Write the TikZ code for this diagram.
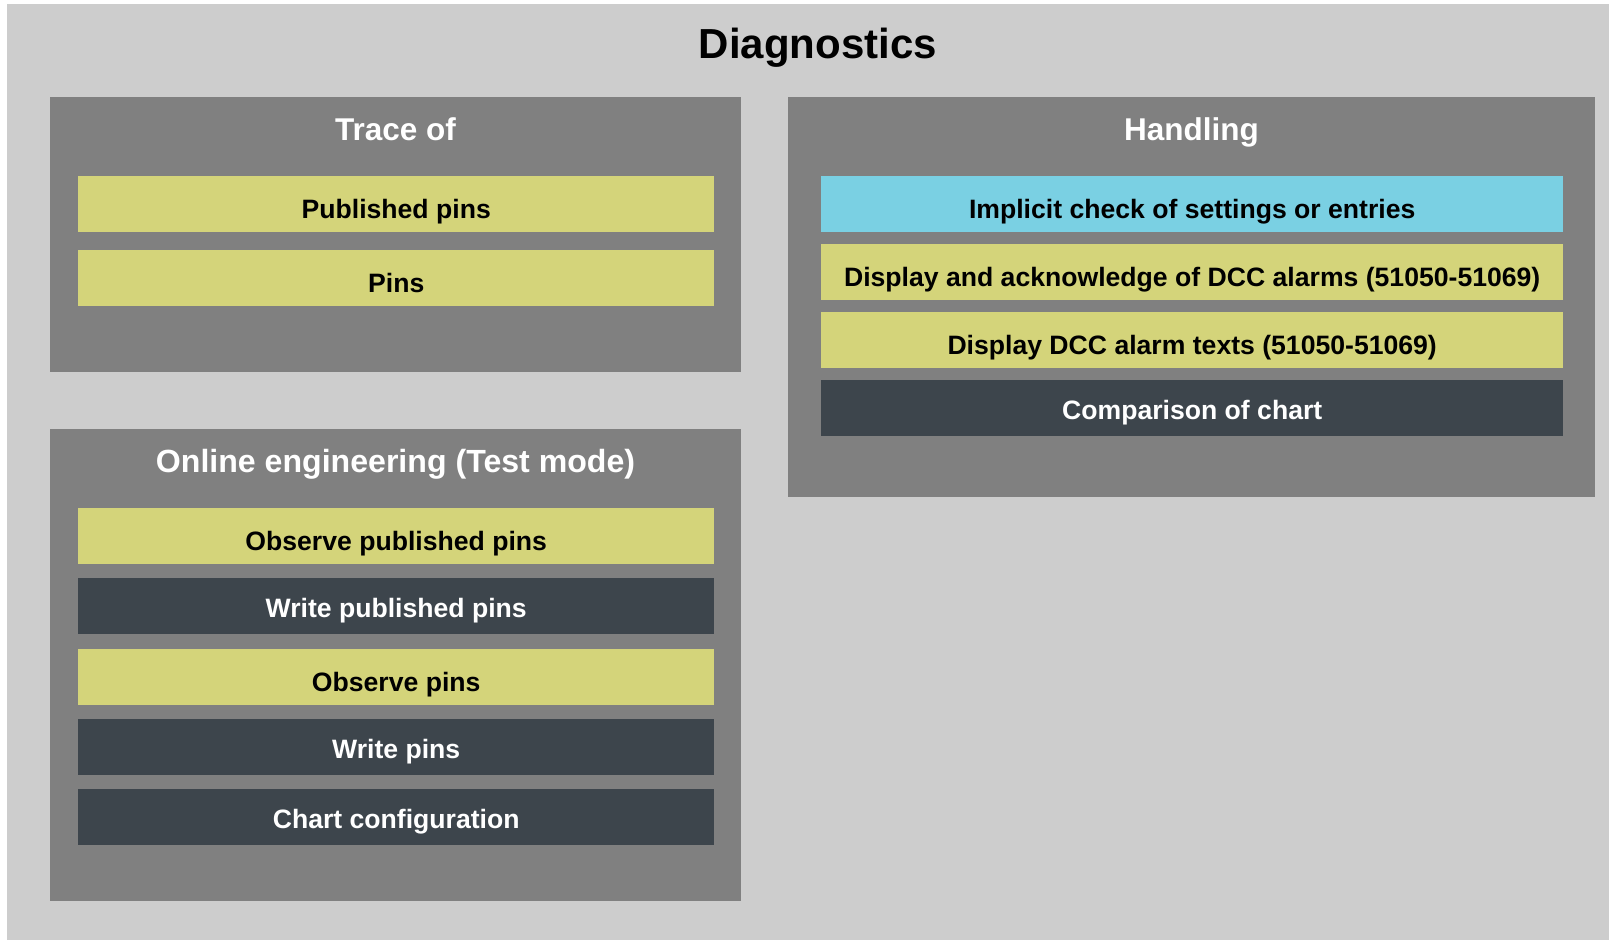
\documentclass[tikz,border=0pt]{standalone}
\usepackage{fontspec}
\setmainfont{Liberation Sans}
\usetikzlibrary{positioning}
\definecolor{bggray}{HTML}{CDCDCD}
\definecolor{panelgray}{HTML}{808080}
\definecolor{itemyellow}{HTML}{D4D47A}
\definecolor{itemcyan}{HTML}{7AD0E3}
\definecolor{itemdark}{HTML}{3D454C}
\tikzset{
	     panel/.style = {fill=panelgray, anchor=north west, inner sep=0pt},
	paneltitle/.style = {text=white, inner sep=0pt, text height=22pt, text depth=0pt,
	                     font=\bfseries\fontsize{31.5}{36}\selectfont},
	      item/.style = {anchor=north west, inner sep=0pt, minimum height=56pt,
	                     text height=31pt, text depth=3pt,
	                     font=\bfseries\fontsize{26.6}{30}\selectfont},
	 leftitem/.style = {item, minimum width=636pt},
	rightitem/.style = {item, minimum width=742pt},
	yellowitem/.style = {fill=itemyellow, text=black},
	  cyanitem/.style = {fill=itemcyan, text=black},
	  darkitem/.style = {fill=itemdark, text=white, text depth=9pt}
}

\begin{document}
\begin{tikzpicture}[x=1pt, y=-1pt]
		\useasboundingbox (0,0) rectangle (1609,940);
		\fill[bggray] (7,4) rectangle (1609,940);
		\node[inner sep=0pt, text height=30pt, text depth=0pt,
		      font=\bfseries\fontsize{42}{48}\selectfont] (title) at (818,43) {Diagnostics};

		% trace of
		\node[panel, minimum width=691pt, minimum height=275pt] (trace) at (50,97) {};
		\node[paneltitle] (tracetitle) at (395.5,129) {Trace of};
		\node[leftitem, yellowitem] (pubpins) at (78,176) {Published pins};
		\node[leftitem, yellowitem] (pins)    at (78,250) {Pins};

		% online engineering
		\node[panel, minimum width=691pt, minimum height=472pt] (online) at (50,429) {};
		\node[paneltitle, font=\bfseries\fontsize{32.1}{36}\selectfont] (onlinetitle) at (395.5,461) {Online engineering (Test mode)};
		\node[leftitem, yellowitem] (obspub)   at (78,508) {Observe published pins};
		\node[leftitem, darkitem]   (writepub) at (78,578) {Write published pins};
		\node[leftitem, yellowitem] (obspins)  at (78,649) {Observe pins};
		\node[leftitem, darkitem]   (writepins) at (78,719) {Write pins};
		\node[leftitem, darkitem]   (chartcfg) at (78,789) {Chart configuration};

		% handling
		\node[panel, minimum width=807pt, minimum height=400pt] (handling) at (788,97) {};
		\node[paneltitle] (handlingtitle) at (1191.5,129) {Handling};
		\node[rightitem, cyanitem]   (implicit) at (821,176) {Implicit check of settings or entries};
		\node[rightitem, yellowitem] (ackalarm) at (821,244) {Display and acknowledge of DCC alarms (51050-51069)};
		\node[rightitem, yellowitem] (alarmtxt) at (821,312) {Display DCC alarm texts (51050-51069)};
		\node[rightitem, darkitem]   (compare)  at (821,380) {Comparison of chart};
	\end{tikzpicture}
\end{document}
